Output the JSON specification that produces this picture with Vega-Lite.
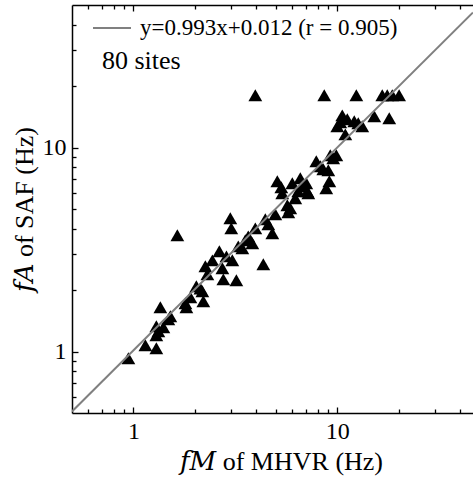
{
  "$schema": "https://vega.github.io/schema/vega-lite/v6.json",
  "autosize": {"type": "none"},
  "padding": {"left": 72, "top": 5, "right": 0, "bottom": 66},
  "width": 401,
  "height": 408,
  "background": "white",
  "config": {
    "view": {"stroke": null},
    "font": "Liberation Serif, serif",
    "axis": {
      "grid": false,
      "domainColor": "black",
      "domainWidth": 1.5,
      "tickColor": "black",
      "tickWidth": 1.3,
      "labelFont": "Liberation Serif, serif",
      "labelFontSize": 24,
      "labelColor": "black",
      "titleFont": "Liberation Serif, DejaVu Serif, serif",
      "titleFontSize": 26,
      "titleFontWeight": "normal",
      "titleColor": "black",
      "labelOverlap": false,
      "labelBound": false,
      "labelFlush": false
    },
    "legend": {
      "labelFont": "Liberation Serif, serif",
      "labelFontSize": 23,
      "labelColor": "black",
      "labelLimit": 400,
      "titleFont": "Liberation Serif, serif",
      "titleFontSize": 26,
      "titleFontWeight": "normal",
      "titleColor": "black"
    }
  },
  "datasets": {
    "pts": [
      {"fM": 0.945, "fA": 0.927}, {"fM": 1.145, "fA": 1.074}, {"fM": 1.296, "fA": 1.038},
      {"fM": 1.296, "fA": 1.202}, {"fM": 1.296, "fA": 1.331}, {"fM": 1.403, "fA": 1.316},
      {"fM": 1.484, "fA": 1.439}, {"fM": 1.356, "fA": 1.649}, {"fM": 1.643, "fA": 3.715},
      {"fM": 1.819, "fA": 1.649}, {"fM": 1.903, "fA": 1.845}, {"fM": 2.036, "fA": 2.089},
      {"fM": 2.179, "fA": 1.975}, {"fM": 2.203, "fA": 1.764}, {"fM": 2.254, "fA": 2.62},
      {"fM": 2.306, "fA": 2.393}, {"fM": 2.64, "fA": 3.102}, {"fM": 2.732, "fA": 2.56},
      {"fM": 2.761, "fA": 2.26}, {"fM": 3.057, "fA": 2.802}, {"fM": 3.199, "fA": 2.236},
      {"fM": 2.988, "fA": 4.502}, {"fM": 3.021, "fA": 4.018}, {"fM": 3.422, "fA": 3.209},
      {"fM": 3.54, "fA": 3.512}, {"fM": 3.831, "fA": 3.396}, {"fM": 3.963, "fA": 4.018},
      {"fM": 4.436, "fA": 4.452}, {"fM": 4.802, "fA": 3.801}, {"fM": 4.966, "fA": 4.711},
      {"fM": 4.337, "fA": 2.679}, {"fM": 5.081, "fA": 6.836}, {"fM": 5.315, "fA": 6.388},
      {"fM": 6.017, "fA": 6.683}, {"fM": 6.586, "fA": 7.07}, {"fM": 7.127, "fA": 6.107},
      {"fM": 6.224, "fA": 5.643}, {"fM": 5.689, "fA": 5.213}, {"fM": 5.752, "fA": 4.816},
      {"fM": 7.047, "fA": 6.683}, {"fM": 6.436, "fA": 6.107}, {"fM": 7.889, "fA": 8.566},
      {"fM": 8.537, "fA": 7.83}, {"fM": 9.036, "fA": 7.74}, {"fM": 9.24, "fA": 9.164},
      {"fM": 9.89, "fA": 9.164}, {"fM": 9.14, "fA": 6.836}, {"fM": 8.83, "fA": 6.317},
      {"fM": 7.21, "fA": 5.97}, {"fM": 10.0, "fA": 12.72}, {"fM": 10.95, "fA": 11.61},
      {"fM": 10.58, "fA": 14.39}, {"fM": 11.2, "fA": 13.76}, {"fM": 12.11, "fA": 13.45},
      {"fM": 13.26, "fA": 12.72}, {"fM": 15.18, "fA": 14.23}, {"fM": 17.98, "fA": 13.92},
      {"fM": 3.963, "fA": 18.05}, {"fM": 8.63, "fA": 18.05}, {"fM": 12.4, "fA": 18.05},
      {"fM": 16.62, "fA": 18.05}, {"fM": 17.58, "fA": 18.05}, {"fM": 18.6, "fA": 18.05},
      {"fM": 20.1, "fA": 18.05}, {"fM": 2.13, "fA": 2.04}, {"fM": 1.326, "fA": 1.257},
      {"fM": 1.518, "fA": 1.49}, {"fM": 2.44, "fA": 2.8}, {"fM": 3.27, "fA": 3.28},
      {"fM": 3.66, "fA": 3.67}, {"fM": 4.59, "fA": 4.21}, {"fM": 5.37, "fA": 5.97},
      {"fM": 5.88, "fA": 5.04}, {"fM": 8.26, "fA": 8.1}, {"fM": 9.55, "fA": 8.86},
      {"fM": 10.34, "fA": 13.3}, {"fM": 12.67, "fA": 13.15}, {"fM": 6.73, "fA": 6.46},
      {"fM": 2.86, "fA": 2.93}, {"fM": 1.8, "fA": 1.725}
    ],
    "fit": [
      {"fM": 0.5, "fA": 0.5085, "label": "y=0.993x+0.012 (r = 0.905)"},
      {"fM": 46.3, "fA": 45.99, "label": "y=0.993x+0.012 (r = 0.905)"}
    ]
  },
  "resolve": {"axis": {"x": "independent"}},
  "layer": [
    {
      "data": {"name": "pts"},
      "mark": {"type": "point", "shape": "triangle-up", "filled": true, "color": "black", "opacity": 1, "size": 190},
      "encoding": {
        "x": {
          "field": "fM", "type": "quantitative",
          "scale": {"type": "log", "domain": [0.5, 46.3], "nice": false},
          "axis": {
            "orient": "bottom",
            "title": "𝑓𝑀 of MHVR (Hz)",
            "titleX": 209,
            "titleAlign": "center",
            "values": [0.6, 0.7, 0.8, 0.9, 1, 2, 3, 4, 5, 6, 7, 8, 9, 10, 20, 30, 40],
            "labelExpr": "datum.value == 1 ? '1' : (datum.value == 10 ? '10' : '')",
            "tickSize": {"condition": {"test": "datum.value == 1 || datum.value == 10", "value": -6}, "value": -4},
            "labelPadding": 12,
            "titlePadding": 3
          }
        },
        "y": {
          "field": "fA", "type": "quantitative",
          "scale": {"type": "log", "domain": [0.5, 50], "nice": false},
          "axis": {
            "orient": "left",
            "title": "𝑓𝐴 of SAF (Hz)",
            "values": [0.6, 0.7, 0.8, 0.9, 1, 2, 3, 4, 5, 6, 7, 8, 9, 10, 20, 30, 40],
            "labelExpr": "datum.value == 1 ? '1' : (datum.value == 10 ? '10' : '')",
            "tickSize": {"condition": {"test": "datum.value == 1 || datum.value == 10", "value": -6}, "value": -4},
            "labelPadding": 12,
            "titlePadding": 5
          }
        }
      }
    },
    {
      "data": {"name": "fit"},
      "mark": {"type": "line", "strokeWidth": 2, "clip": true},
      "encoding": {
        "x": {
          "field": "fM", "type": "quantitative",
          "scale": {"type": "log", "domain": [0.5, 46.3], "nice": false},
          "axis": {
            "orient": "top",
            "title": null,
            "labels": false,
            "values": [0.6, 0.7, 0.8, 0.9, 1, 2, 3, 4, 5, 6, 7, 8, 9, 10, 20, 30, 40],
            "tickSize": {"condition": {"test": "datum.value == 1 || datum.value == 10", "value": -6}, "value": -4}
          }
        },
        "y": {
          "field": "fA", "type": "quantitative",
          "scale": {"type": "log", "domain": [0.5, 50], "nice": false},
          "axis": {
            "orient": "left",
            "title": "𝑓𝐴 of SAF (Hz)",
            "values": [0.6, 0.7, 0.8, 0.9, 1, 2, 3, 4, 5, 6, 7, 8, 9, 10, 20, 30, 40],
            "labelExpr": "datum.value == 1 ? '1' : (datum.value == 10 ? '10' : '')",
            "tickSize": {"condition": {"test": "datum.value == 1 || datum.value == 10", "value": -6}, "value": -4},
            "labelPadding": 12,
            "titlePadding": 5
          }
        },
        "stroke": {
          "field": "label", "type": "nominal",
          "scale": {"range": ["#808080"]},
          "legend": {
            "orient": "none",
            "legendX": 30,
            "legendY": 3,
            "title": "80 sites",
            "titleOrient": "bottom",
            "titleAnchor": "start",
            "titlePadding": 8,
            "symbolType": "stroke",
            "symbolSize": 1444,
            "symbolStrokeWidth": 2,
            "symbolOffset": -10,
            "labelOffset": 8,
            "padding": 0
          }
        }
      }
    }
  ]
}
